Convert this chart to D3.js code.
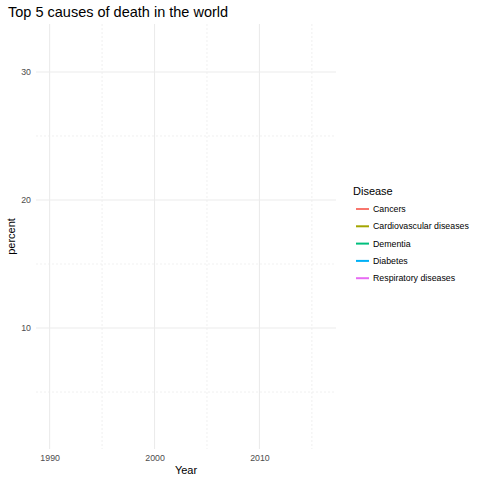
<!DOCTYPE html>
<html>
<head>
<meta charset="utf-8">
<script src="https://cdn.jsdelivr.net/npm/d3@7"></script>
<style>
  body { margin: 0; background: #fff; }
  text { font-family: "Liberation Sans", Arial, sans-serif; }
</style>
</head>
<body>
<div id="chart"></div>
<script>
// Data (first frame of the animation: no line drawn yet, only the frame)
var diseases = ["Cancers", "Cardiovascular diseases", "Dementia", "Diabetes", "Respiratory diseases"];
var diseaseColors = ["#F8766D", "#A3A500", "#00BF7D", "#00B0F6", "#E76BF3"];
var yearExtent = [1990, 2016];
var percentExtent = [2.06, 32.24];
var yearTicks = [1990, 2000, 2010];
var yearMinorTicks = [1995, 2005, 2015];
var percentTicks = [10, 20, 30];
var percentMinorTicks = [5, 15, 25];

var svgWidth = 480;
var svgHeight = 480;

var panel = { left: 36, top: 24, right: 336, bottom: 449 };

var svg = d3.select("#chart")
  .append("svg")
  .attr("width", svgWidth)
  .attr("height", svgHeight);

// ggplot style 5% expansion
var xPad = (yearExtent[1] - yearExtent[0]) * 0.05;
var yPad = (percentExtent[1] - percentExtent[0]) * 0.05;

var xScale = d3.scaleLinear()
  .domain([yearExtent[0] - xPad, yearExtent[1] + xPad])
  .range([panel.left, panel.right]);

var yScale = d3.scaleLinear()
  .domain([percentExtent[0] - yPad, percentExtent[1] + yPad])
  .range([panel.bottom, panel.top]);

var grid = svg.append("g");

// minor grid
grid.selectAll(".xminor")
  .data(yearMinorTicks)
  .enter()
  .append("line")
  .attr("x1", d => xScale(d))
  .attr("x2", d => xScale(d))
  .attr("y1", panel.top)
  .attr("y2", panel.bottom)
  .attr("stroke", "#e6e6e6")
  .attr("stroke-width", 0.6)
  .attr("stroke-dasharray", "2,2");

grid.selectAll(".yminor")
  .data(percentMinorTicks)
  .enter()
  .append("line")
  .attr("x1", panel.left)
  .attr("x2", panel.right)
  .attr("y1", d => yScale(d))
  .attr("y2", d => yScale(d))
  .attr("stroke", "#e6e6e6")
  .attr("stroke-width", 0.6)
  .attr("stroke-dasharray", "2,2");

// major grid
grid.selectAll(".xmajor")
  .data(yearTicks)
  .enter()
  .append("line")
  .attr("x1", d => xScale(d))
  .attr("x2", d => xScale(d))
  .attr("y1", panel.top)
  .attr("y2", panel.bottom)
  .attr("stroke", "#ebebeb")
  .attr("stroke-width", 1.1);

grid.selectAll(".ymajor")
  .data(percentTicks)
  .enter()
  .append("line")
  .attr("x1", panel.left)
  .attr("x2", panel.right)
  .attr("y1", d => yScale(d))
  .attr("y2", d => yScale(d))
  .attr("stroke", "#ebebeb")
  .attr("stroke-width", 1.1);

// axes (labels only, like theme_minimal)
var bottomAxis = d3.axisBottom(xScale).tickValues(yearTicks).tickSize(0).tickPadding(6).tickFormat(d3.format("d"));
var leftAxis = d3.axisLeft(yScale).tickValues(percentTicks).tickSize(0).tickPadding(5);

var xAxisG = svg.append("g")
  .attr("transform", `translate(0, ${panel.bottom})`)
  .call(bottomAxis);

var yAxisG = svg.append("g")
  .attr("transform", `translate(${panel.left}, 0)`)
  .call(leftAxis);

[xAxisG, yAxisG].forEach(function (g) {
  g.select(".domain").remove();
  g.selectAll("text")
    .attr("fill", "#4d4d4d")
    .style("font-size", "8.8px")
    .style("font-family", "Liberation Sans, Arial, sans-serif");
});

// titles
svg.append("text")
  .attr("x", 8)
  .attr("y", 17)
  .attr("fill", "#000")
  .style("font-size", "14.5px")
  .text("Top 5 causes of death in the world");

svg.append("text")
  .attr("x", (panel.left + panel.right) / 2)
  .attr("y", 474)
  .attr("text-anchor", "middle")
  .attr("fill", "#000")
  .style("font-size", "11px")
  .text("Year");

svg.append("text")
  .attr("transform", `translate(15, ${(panel.top + panel.bottom) / 2}) rotate(-90)`)
  .attr("text-anchor", "middle")
  .attr("fill", "#000")
  .style("font-size", "11px")
  .text("percent");

// legend
var legend = svg.append("g").attr("transform", "translate(353, 0)");

legend.append("text")
  .attr("x", 0)
  .attr("y", 195)
  .attr("fill", "#000")
  .style("font-size", "11px")
  .text("Disease");

var items = legend.selectAll(".item")
  .data(diseases)
  .enter()
  .append("g")
  .attr("transform", (d, i) => `translate(0, ${209 + i * 17.3})`);

items.append("line")
  .attr("x1", 3)
  .attr("x2", 16)
  .attr("y1", 0)
  .attr("y2", 0)
  .attr("stroke", (d, i) => diseaseColors[i])
  .attr("stroke-width", 2);

items.append("text")
  .attr("x", 20)
  .attr("y", 3)
  .attr("fill", "#000")
  .style("font-size", "8.8px")
  .text(d => d);
</script>
</body>
</html>
